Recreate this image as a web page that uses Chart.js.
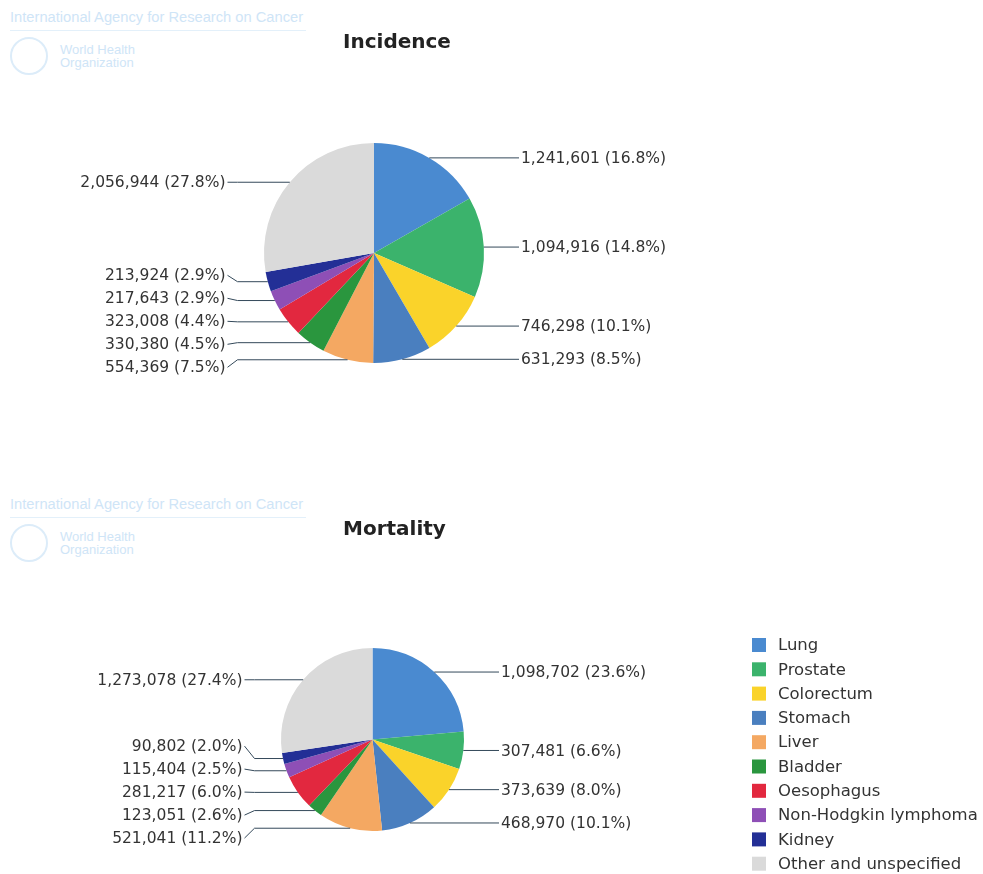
<!DOCTYPE html>
<html>
<head>
<meta charset="utf-8">
<script src="https://cdn.jsdelivr.net/npm/chart.js@4.4.1/dist/chart.umd.min.js"></script>
<style>
  html, body { margin: 0; padding: 0; background: #fff; }
  body { width: 983px; height: 874px; position: relative; overflow: hidden; font-family: Arial, "Liberation Sans", sans-serif; }
  .panel { position: absolute; left: 0; width: 983px; height: 437px; }
  .wm { position: absolute; left: 10px; color: #cfe5f7; font-size: 14.7px; }
  .wm .agency { width: 296px; border-bottom: 1px solid #e3f0fa; padding-bottom: 5px; white-space: nowrap; }
  .wm .who { margin-top: 6px; display: flex; align-items: center; }
  .wm .logo { width: 34px; height: 34px; border: 2px solid #dcecf9; border-radius: 50%; margin-right: 12px; }
  .wm .org { line-height: 13px; font-size: 13px; }
</style>
</head>
<body>
<div class="wm" style="top: 9px;"><div class="agency">International Agency for Research on Cancer</div><div class="who"><div class="logo"></div><div class="org">World Health<br>Organization</div></div></div>
<div class="wm" style="top: 496px;"><div class="agency">International Agency for Research on Cancer</div><div class="who"><div class="logo"></div><div class="org">World Health<br>Organization</div></div></div>
<div class="panel" style="top: 0;"><canvas id="incidence" width="983" height="437"></canvas></div>
<div class="panel" style="top: 437px;"><canvas id="mortality" width="983" height="437"></canvas></div>
<script>
const cancers = ['Lung', 'Prostate', 'Colorectum', 'Stomach', 'Liver', 'Bladder', 'Oesophagus', 'Non-Hodgkin lymphoma', 'Kidney', 'Other and unspecified'];
const cancerColors = ['#4a8ad0', '#3bb36c', '#fad32a', '#4a7fbf', '#f4a862', '#2a963e', '#e2283f', '#8e4fb6', '#232f96', '#dadada'];
const incidenceCases = [1241601, 1094916, 746298, 631293, 554369, 330380, 323008, 217643, 213924, 2056944];
const mortalityCases = [1098702, 307481, 373639, 468970, 521041, 123051, 281217, 115404, 90802, 1273078];

const labelFont = '15.5px "DejaVu Sans", Verdana, sans-serif';
const labelGap = 23;

// Outside labels with connectors, spread in clusters so they never overlap
const outsideLabels = {
    id: 'outsideLabels',
    afterDatasetsDraw(chart, args, opts) {
        const ctx = chart.ctx;
        const meta = chart.getDatasetMeta(0);
        const values = chart.data.datasets[0].data;
        const total = values.reduce((a, b) => a + b, 0);
        const items = meta.data.map((arc, i) => {
            const mid = (arc.startAngle + arc.endAngle) / 2;
            const px = arc.x + Math.cos(mid) * arc.outerRadius;
            const py = arc.y + Math.sin(mid) * arc.outerRadius;
            const pct = (values[i] / total * 100).toFixed(1);
            return { px, py, y: py, right: Math.cos(mid) >= 0, text: values[i].toLocaleString('en-US') + ' (' + pct + '%)', cx: arc.x, r: arc.outerRadius };
        });
        const spread = (list) => {
            list.sort((a, b) => a.py - b.py);
            let clusters = list.map(it => ({ items: [it], mean: it.py }));
            let merged = true;
            const place = (c) => {
                const n = c.items.length;
                const start = c.mean - (n - 1) * labelGap / 2;
                c.items.forEach((it, k) => { it.y = start + k * labelGap; });
            };
            clusters.forEach(place);
            while (merged) {
                merged = false;
                for (let i = 0; i < clusters.length - 1; i++) {
                    const a = clusters[i], b = clusters[i + 1];
                    if (b.items[0].y - a.items[a.items.length - 1].y < labelGap) {
                        const all = a.items.concat(b.items);
                        const c = { items: all, mean: all.reduce((s, it) => s + it.py, 0) / all.length };
                        place(c);
                        clusters.splice(i, 2, c);
                        merged = true;
                        break;
                    }
                }
            }
        };
        spread(items.filter(it => it.right));
        spread(items.filter(it => !it.right));

        ctx.save();
        ctx.font = labelFont;
        ctx.textBaseline = 'middle';
        ctx.strokeStyle = '#34495a';
        ctx.lineWidth = 1;
        items.forEach(it => {
            const dir = it.right ? 1 : -1;
            const lx = it.cx + dir * (it.r + (it.right ? 37 : 38.5));
            ctx.beginPath();
            ctx.moveTo(lx - dir * 2, it.y);
            ctx.lineTo(lx - dir * 12, it.py);
            ctx.lineTo(it.px, it.py);
            ctx.stroke();
            ctx.fillStyle = '#333';
            ctx.textAlign = it.right ? 'left' : 'right';
            ctx.fillText(it.text, lx, it.y + 1);
        });
        // title
        ctx.font = 'bold 20px "DejaVu Sans", Verdana, sans-serif';
        ctx.fillStyle = '#222';
        ctx.textAlign = 'left';
        ctx.textBaseline = 'alphabetic';
        ctx.fillText(opts.title, 343, opts.titleY);
        ctx.restore();
    }
};

// Legend block drawn below-right of the mortality pie
const sideLegend = {
    id: 'sideLegend',
    afterDraw(chart, args, opts) {
        if (!opts.show) return;
        const ctx = chart.ctx;
        ctx.save();
        ctx.font = '16.5px "DejaVu Sans", Verdana, sans-serif';
        ctx.textBaseline = 'middle';
        ctx.textAlign = 'left';
        chart.data.labels.forEach((lab, i) => {
            const y = opts.top + i * 24.3;
            ctx.fillStyle = chart.data.datasets[0].backgroundColor[i];
            ctx.fillRect(opts.left, y - 7, 14, 14);
            ctx.fillStyle = '#333';
            ctx.fillText(lab, opts.left + 26, y + 1);
        });
        ctx.restore();
    }
};

function makePie(id, values, pad, title, titleY, legend) {
    return new Chart(document.getElementById(id), {
        type: 'pie',
        data: {
            labels: cancers,
            datasets: [{
                data: values,
                backgroundColor: cancerColors,
                borderWidth: 0,
            }]
        },
        options: {
            responsive: false,
            animation: false,
            rotation: 0,
            layout: { padding: pad },
            plugins: {
                legend: { display: false },
                tooltip: { enabled: false },
                outsideLabels: { title: title, titleY: titleY },
                sideLegend: legend,
            }
        },
        plugins: [outsideLabels, sideLegend]
    });
}

makePie('incidence', incidenceCases, { left: 264, right: 499, top: 143, bottom: 74 }, 'Incidence', 48, { show: false });
makePie('mortality', mortalityCases, { left: 281, right: 519, top: 211, bottom: 43 }, 'Mortality', 98, { show: true, left: 752, top: 208 });
</script>
</body>
</html>
